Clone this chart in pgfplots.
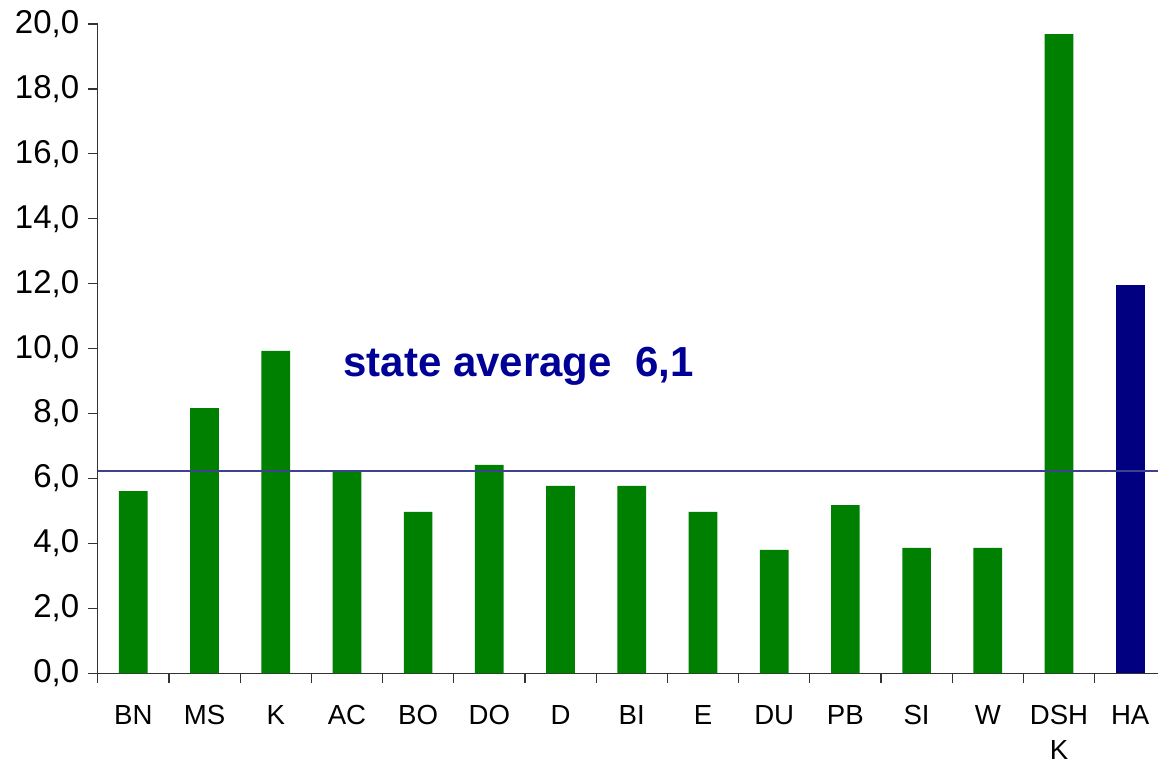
\documentclass[border=0pt]{standalone}
\usepackage{fontspec}
\setmainfont{Liberation Sans}
\usepackage{pgfplots}
\pgfplotsset{compat=1.18}
\definecolor{bargreen}{RGB}{0,128,0}
\definecolor{barnavy}{RGB}{0,0,128}
\definecolor{avgline}{RGB}{64,64,144}
\definecolor{avgtext}{RGB}{0,0,150}
\begin{document}
\begin{tikzpicture}
\path[use as bounding box] (-48.85pt,-44.85pt) rectangle (530.15pt,336.65pt);
\begin{axis}[
  at={(0,0)}, anchor=south west,
  width=530.15pt, height=324.65pt, scale only axis,
  xmin=-0.5, xmax=14.39, ymin=0, ymax=20,
  axis x line*=bottom, axis y line*=left,
  axis line style={line width=0.6pt, draw=black!80},
  xtick={0,...,14},
  xticklabels={BN,MS,K,AC,BO,DO,D,BI,E,DU,PB,SI,W,{\begin{tabular}[t]{@{}c@{}}DSH\\K\end{tabular}},HA},
  minor xtick={-0.5,0.5,...,14.5},
  major x tick style={draw=none},
  minor x tick style={draw=black!80, line width=0.6pt},
  ytick={0,2,...,20},
  ytick style={draw=black!80, line width=0.6pt},
  tick align=outside,
  major tick length=4.75pt, minor tick length=4.75pt,
  x tick label style={font=\fontsize{13.8}{17.5}\selectfont, anchor=base, yshift=-20.9pt},
  y tick label style={font=\fontsize{16.5}{18}\selectfont, xshift=-1pt},
  yticklabel style={/pgf/number format/.cd, fixed, fixed zerofill, precision=1, use comma, assume math mode=true},
  ybar, bar width=14.35pt,
  clip=false,
]
\addplot[fill=bargreen, draw=none, bar shift=0pt] coordinates {
  (0,5.61) (1,8.17) (2,9.93) (3,6.21) (4,4.97) (5,6.42) (6,5.77) (7,5.77)
  (8,4.97) (9,3.80) (10,5.18) (11,3.86) (12,3.86) (13,19.69)
};
\addplot[fill=barnavy, draw=none, bar shift=0pt] coordinates {(14,11.96)};
\addplot[sharp plot, draw=avgline, line width=1pt] coordinates {(-0.5,6.24) (14.39,6.24)};
\node[anchor=base west, inner sep=0pt, font=\fontsize{21}{25}\selectfont\bfseries, text=avgtext] at (axis cs:2.945,9.13) {state average\ \ 6,1};
\end{axis}
\end{tikzpicture}
\end{document}
